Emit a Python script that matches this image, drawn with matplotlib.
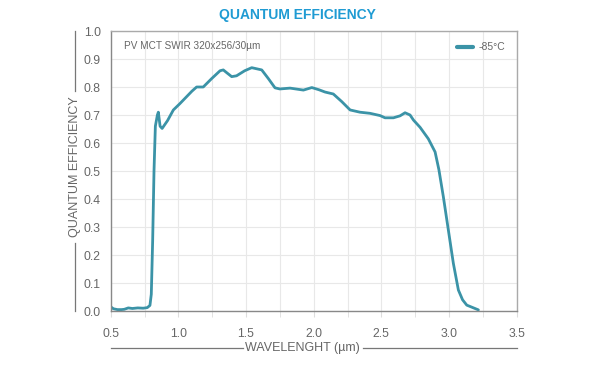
import matplotlib
matplotlib.use("Agg")
import matplotlib.pyplot as plt
import numpy as np

plt.rcParams['font.family'] = ['Liberation Sans', 'DejaVu Sans']

# curve (wavelength in um, QE)
wavelength = [0.50, 0.52, 0.55, 0.58, 0.60, 0.63, 0.66, 0.70, 0.74, 0.77, 0.79,
              0.80, 0.81, 0.82, 0.83, 0.845, 0.852, 0.865, 0.88, 0.92, 0.963,
              1.01, 1.06, 1.10, 1.135, 1.184, 1.246, 1.308, 1.332, 1.36, 1.394,
              1.43, 1.49, 1.542, 1.616, 1.665, 1.714, 1.75, 1.825, 1.924, 1.986,
              2.04, 2.084, 2.145, 2.207, 2.269, 2.342, 2.416, 2.49, 2.527, 2.589,
              2.638, 2.675, 2.712, 2.737, 2.786, 2.847, 2.897, 2.925, 2.958, 2.995,
              3.032, 3.069, 3.10, 3.131, 3.217]
qe = [0.015, 0.008, 0.005, 0.005, 0.006, 0.011, 0.009, 0.011, 0.010, 0.012, 0.02,
      0.06, 0.25, 0.50, 0.66, 0.70, 0.71, 0.66, 0.652, 0.68, 0.718,
      0.74, 0.765, 0.785, 0.800, 0.800, 0.830, 0.858, 0.861, 0.850, 0.837,
      0.840, 0.858, 0.869, 0.861, 0.830, 0.797, 0.793, 0.796, 0.789, 0.798,
      0.790, 0.782, 0.775, 0.748, 0.718, 0.710, 0.706, 0.698, 0.690, 0.690,
      0.697, 0.708, 0.700, 0.682, 0.656, 0.615, 0.568, 0.505, 0.408, 0.289,
      0.170, 0.075, 0.040, 0.021, 0.004]

x_ticks = [0.5, 1.0, 1.5, 2.0, 2.5, 3.0, 3.5]
y_ticks = [0.0, 0.1, 0.2, 0.3, 0.4, 0.5, 0.6, 0.7, 0.8, 0.9, 1.0]

line_color = '#3b93a7'
text_color = '#666666'
rule_color = '#777777'

fig = plt.figure(figsize=(5.97, 3.73), dpi=100)
ax = fig.add_axes([110.7 / 597, 62 / 373, 406 / 597, 280 / 373])

ax.plot(wavelength, qe, color=line_color, lw=2.0, solid_capstyle='round',
        solid_joinstyle='round', label='-85°C')

ax.set_xlim(0.5, 3.5)
ax.set_ylim(0.0, 1.0)
ax.set_xticks(x_ticks)
ax.set_xticklabels([f'{v:.1f}' for v in x_ticks])
ax.set_xticks(np.arange(0.75, 3.5, 0.5), minor=True)
ax.set_yticks(y_ticks)
ax.set_yticklabels([f'{v:.1f}' for v in y_ticks])

ax.grid(True, which='both', color='#e8e8e8', lw=0.8)
ax.set_axisbelow(True)
ax.tick_params(axis='x', which='both', length=4, color='#dddddd', pad=8,
               labelsize=8.8, labelcolor=text_color)
ax.tick_params(axis='y', length=0, pad=7, labelsize=8.8, labelcolor=text_color)
for side in ['left', 'bottom']:
    ax.spines[side].set_color('#888888')
    ax.spines[side].set_linewidth(1.0)
for side in ['top', 'right']:
    ax.spines[side].set_color('#aaaaaa')
    ax.spines[side].set_linewidth(1.0)

ax.text(0.033, 0.945, 'PV MCT SWIR 320x256/30µm', transform=ax.transAxes,
        fontsize=7.2, color=text_color, va='center', ha='left')

leg = ax.legend(loc='upper right', frameon=False, fontsize=7.5, handlelength=1.6,
                handletextpad=0.5, borderaxespad=0.3, bbox_to_anchor=(0.99, 0.985))
for t in leg.get_texts():
    t.set_color(text_color)
for h in leg.get_lines():
    h.set_linewidth(3.0)

# axis titles with rules, as in the reference
ax.text(-0.088, 0.515, 'QUANTUM EFFICIENCY', transform=ax.transAxes, rotation=90,
        ha='center', va='center', fontsize=9, color=text_color)
ax.plot([-0.088, -0.088], [1.0, 0.787], transform=ax.transAxes, color=rule_color,
        lw=0.9, clip_on=False)
ax.plot([-0.088, -0.088], [0.243, 0.0], transform=ax.transAxes, color=rule_color,
        lw=0.9, clip_on=False)

ax.text(0.473, -0.132, 'WAVELENGHT (µm)', transform=ax.transAxes,
        ha='center', va='center', fontsize=9, color=text_color)
ax.plot([0.0, 0.326], [-0.132, -0.132], transform=ax.transAxes, color=rule_color,
        lw=0.9, clip_on=False)
ax.plot([0.621, 1.0], [-0.132, -0.132], transform=ax.transAxes, color=rule_color,
        lw=0.9, clip_on=False)

fig.text(297 / 597, 1 - 15 / 373, 'QUANTUM EFFICIENCY', ha='center', va='center',
         fontsize=10, fontweight='bold', color='#1f9bd3')

fig.savefig('out.png', dpi=100)
